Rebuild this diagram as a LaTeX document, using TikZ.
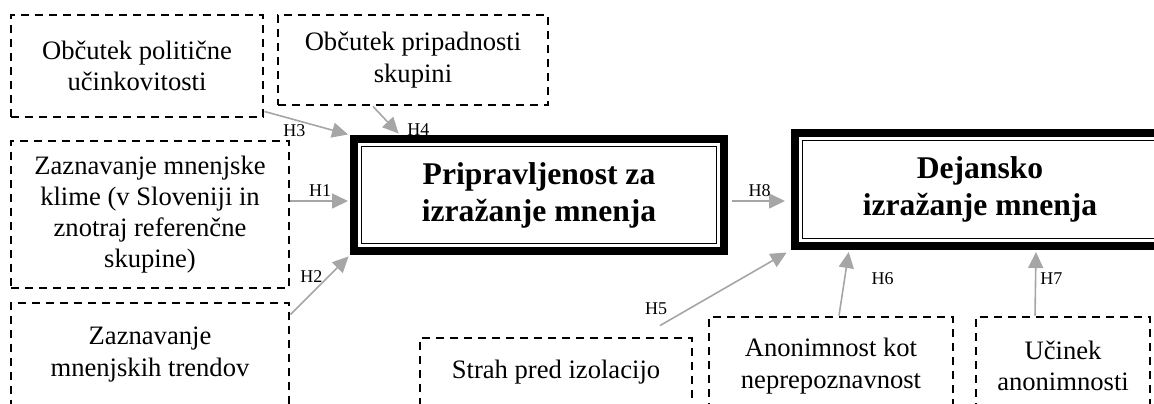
\documentclass[tikz,border=0pt]{standalone}
\usepackage{fontspec}
\setmainfont{Liberation Serif}
\usetikzlibrary{arrows.meta}
\definecolor{arrowgray}{RGB}{166,166,166}

\begin{document}
\begin{tikzpicture}[->,>={Triangle[length=8pt,width=7.5pt]},shorten >=1pt,x=0.5pt,y=-0.5pt,
      main node/.style={draw,line width=4pt,minimum width=185pt,minimum height=56pt,align=center,
        font=\fontsize{15.8}{18.5}\selectfont\bfseries,
        path picture={\draw[-,line width=0.8pt] ([shift={(3.8pt,-3.8pt)}]path picture bounding box.north west)
          rectangle ([shift={(-3.8pt,3.8pt)}]path picture bounding box.south east);}},
      side node/.style={draw,dash pattern=on 4.2pt off 2.8pt,line width=1.45pt,align=center,inner sep=0pt,
        font=\fontsize{13.3}{15.6}\selectfont}]

      \useasboundingbox (0,0) rectangle (1154,403);

      \node[main node] (Prip) at (539,195) {Pripravljenost za\\izražanje mnenja};
      \node[main node, minimum height=56.5pt] (Dej) at (980,189.5) {Dejansko\\izražanje mnenja};

      \node[side node, minimum width=126pt, minimum height=51pt] (Pol) at (137,66) {Občutek politične\\učinkovitosti};
      \node[side node, minimum width=135pt, minimum height=45pt] (Sku) at (413,60) {Občutek pripadnosti\\skupini};
      \node[side node, minimum width=139pt, minimum height=73.5pt] (Klima) at (150,214.5) {Zaznavanje mnenjske\\klime (v Sloveniji in\\znotraj referenčne\\skupine)};
      \node[side node, minimum width=139pt, minimum height=51.5pt] (Trend) at (150,354.5) {Zaznavanje\\mnenjskih trendov};
      \node[side node, minimum width=136pt, minimum height=34pt] (Strah) at (556,372) {Strah pred izolacijo};
      \node[side node, minimum width=122pt, minimum height=49pt] (Anon) at (831,366) {Anonimnost kot\\neprepoznavnost};
      \node[side node, minimum width=87pt, minimum height=49pt] (Ucinek) at (1063,366) {Učinek\\anonimnosti};

      \path[every edge/.style={draw=arrowgray,line width=0.8pt},
            every node/.style={font=\fontsize{9}{10}\selectfont,text=black,inner sep=2pt}]
        ([yshift=6.75pt]Klima.east) edge node [above] {H1} ([yshift=-3pt]Prip.west)
        ([yshift=-6.5pt]Trend.north east) edge node [pos=.45, above, xshift=-3pt] {H2} (Prip.south west)
        ([yshift=3.5pt]Pol.south east) edge node [pos=.35, below] {H3} (Prip.north west)
        ([xshift=-20pt]Sku.south) edge node [pos=.8, right, xshift=4pt] {H4} ([xshift=-69.5pt]Prip.north)
        ([yshift=-3pt]Prip.east) edge [shorten <=2pt, shorten >=3pt] node [above] {H8} ([yshift=-5.75pt]Dej.west)
        ([shift={(52pt,5.5pt)}]Strah.north) edge [shorten >=2.5pt] node [at start, above=3pt, xshift=-2pt] {H5} (Dej.south west)
        ([xshift=4pt]Anon.north) edge node [pos=.57, right=11pt] {H6} ([xshift=-65.5pt]Dej.south)
        ([xshift=-14pt]Ucinek.north) edge node [pos=.57, right] {H7} ([xshift=28pt]Dej.south);
\end{tikzpicture}
\end{document}
